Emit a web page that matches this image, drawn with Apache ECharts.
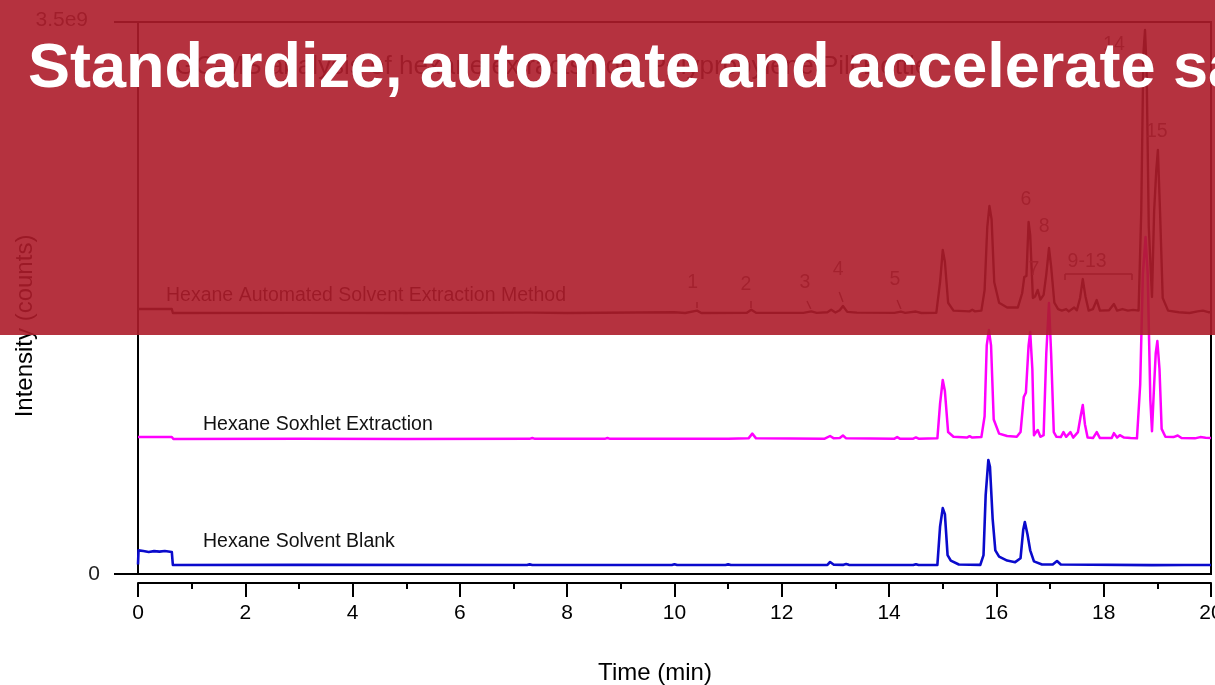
<!DOCTYPE html>
<html>
<head>
<meta charset="utf-8">
<script src="https://cdn.jsdelivr.net/npm/echarts@6/dist/echarts.min.js"></script>
<style>
  html, body { margin: 0; padding: 0; background: #fff; }
  #chart { width: 1215px; height: 685px; }
</style>
</head>
<body>
<div id="chart"></div>
<script>
// Intensities are in units of 1e9 counts, retention times in minutes.
const xTicks = { min: 0, max: 20, interval: 2 };
const yTicks = { min: 0, max: 3.5, interval: 3.5 };

// Hexane automated solvent extraction method
const automatedTrace = [
  [0, 1.68], [0.63, 1.68], [0.65, 1.655], [3.0, 1.656], [5.0, 1.655], [7.3, 1.657], [8.0, 1.655],
  [10.0, 1.66], [10.2, 1.655], [10.42, 1.67], [10.5, 1.655], [11.35, 1.656], [11.43, 1.675], [11.52, 1.656],
  [12.4, 1.656], [12.55, 1.665], [12.65, 1.656], [12.85, 1.66], [12.92, 1.675], [13.0, 1.658], [13.08, 1.672],
  [13.14, 1.699], [13.22, 1.662], [13.4, 1.657], [14.1, 1.656], [14.22, 1.664], [14.3, 1.656], [14.5, 1.664],
  [14.6, 1.655], [14.88, 1.656], [14.95, 1.85], [15.0, 2.054], [15.04, 1.98], [15.1, 1.72], [15.2, 1.67],
  [15.5, 1.665], [15.55, 1.675], [15.6, 1.665], [15.72, 1.67], [15.78, 1.8], [15.83, 2.2], [15.87, 2.333],
  [15.91, 2.25], [15.96, 1.85], [16.05, 1.72], [16.2, 1.69], [16.4, 1.69], [16.48, 1.78], [16.52, 1.883],
  [16.56, 1.89], [16.6, 2.232], [16.63, 2.15], [16.68, 1.75], [16.72, 1.76], [16.77, 1.801], [16.82, 1.74],
  [16.88, 1.77], [16.93, 1.9], [16.98, 2.067], [17.02, 1.95], [17.08, 1.72], [17.15, 1.68], [17.22, 1.67],
  [17.3, 1.68], [17.35, 1.665], [17.45, 1.69], [17.5, 1.672], [17.56, 1.75], [17.61, 1.87], [17.66, 1.76],
  [17.72, 1.67], [17.8, 1.68], [17.87, 1.737], [17.93, 1.67], [18.1, 1.672], [18.19, 1.712], [18.25, 1.67],
  [18.35, 1.68], [18.45, 1.67], [18.55, 1.675], [18.65, 1.67], [18.7, 2.3], [18.74, 3.3], [18.77, 3.449],
  [18.8, 3.2], [18.84, 2.2], [18.9, 1.756], [18.94, 2.3], [18.98, 2.561], [19.01, 2.688], [19.05, 2.3],
  [19.1, 1.75], [19.2, 1.67], [19.4, 1.66], [19.6, 1.655], [19.75, 1.665], [19.85, 1.67], [19.95, 1.66], [20, 1.66]
];

// Hexane Soxhlet extraction
const soxhletTrace = [
  [0, 0.869], [0.63, 0.869], [0.66, 0.856], [3, 0.857], [5, 0.856], [7.3, 0.857], [7.35, 0.862], [7.4, 0.857],
  [8.7, 0.857], [8.75, 0.862], [8.8, 0.857], [10.0, 0.857], [10.02, 0.866], [10.06, 0.857], [11.0, 0.857],
  [11.38, 0.86], [11.45, 0.89], [11.52, 0.86], [12.8, 0.858], [12.9, 0.875], [12.97, 0.86], [13.08, 0.862],
  [13.14, 0.878], [13.2, 0.86], [14.1, 0.858], [14.15, 0.868], [14.2, 0.858], [14.45, 0.858], [14.5, 0.866],
  [14.55, 0.858], [14.9, 0.86], [14.95, 1.08], [15.0, 1.23], [15.04, 1.16], [15.1, 0.9], [15.2, 0.87],
  [15.45, 0.865], [15.5, 0.874], [15.55, 0.865], [15.72, 0.868], [15.78, 1.0], [15.82, 1.45], [15.86, 1.547],
  [15.9, 1.45], [15.95, 0.98], [16.05, 0.89], [16.2, 0.875], [16.38, 0.87], [16.45, 0.9], [16.51, 1.122],
  [16.55, 1.15], [16.6, 1.45], [16.63, 1.534], [16.67, 1.3], [16.7, 0.88], [16.74, 0.9], [16.77, 0.913],
  [16.82, 0.87], [16.88, 0.88], [16.93, 1.4], [16.98, 1.718], [17.02, 1.4], [17.07, 0.9], [17.12, 0.87],
  [17.2, 0.868], [17.25, 0.9], [17.3, 0.87], [17.38, 0.9], [17.43, 0.865], [17.52, 0.9], [17.57, 1.0],
  [17.61, 1.072], [17.65, 0.95], [17.7, 0.865], [17.8, 0.862], [17.87, 0.9], [17.93, 0.862], [18.15, 0.862],
  [18.19, 0.893], [18.25, 0.865], [18.3, 0.88], [18.38, 0.865], [18.5, 0.862], [18.62, 0.86], [18.68, 1.2],
  [18.73, 1.9], [18.78, 2.137], [18.82, 1.9], [18.87, 1.1], [18.9, 0.905], [18.94, 1.2], [18.97, 1.4],
  [19.0, 1.477], [19.04, 1.3], [19.08, 0.92], [19.15, 0.87], [19.3, 0.868], [19.38, 0.878], [19.45, 0.862],
  [19.7, 0.86], [19.8, 0.868], [19.9, 0.864], [20, 0.862]
];

// Hexane solvent blank
const blankTrace = [
  [0, 0.06], [0.01, 0.15], [0.1, 0.146], [0.2, 0.14], [0.3, 0.145], [0.4, 0.142], [0.5, 0.146], [0.63, 0.14],
  [0.65, 0.057], [3, 0.058], [7.25, 0.057], [7.3, 0.061], [7.35, 0.057], [9.95, 0.057], [10.0, 0.062],
  [10.05, 0.057], [10.95, 0.057], [11.0, 0.061], [11.05, 0.057], [12.85, 0.058], [12.9, 0.076], [12.97, 0.059],
  [13.15, 0.058], [13.2, 0.063], [13.25, 0.058], [14.45, 0.057], [14.5, 0.062], [14.55, 0.057], [14.9, 0.058],
  [14.95, 0.3], [15.0, 0.418], [15.04, 0.38], [15.09, 0.12], [15.15, 0.085], [15.3, 0.06], [15.7, 0.058],
  [15.76, 0.12], [15.8, 0.5], [15.85, 0.723], [15.88, 0.68], [15.93, 0.35], [15.98, 0.15], [16.05, 0.11],
  [16.2, 0.085], [16.35, 0.075], [16.45, 0.1], [16.5, 0.28], [16.53, 0.33], [16.58, 0.25], [16.63, 0.15],
  [16.7, 0.08], [16.85, 0.06], [17.05, 0.06], [17.13, 0.082], [17.2, 0.06], [18.9, 0.056], [19.5, 0.057], [20, 0.057]
];

// Peak numbers on the automated trace: [label, time, intensity]
const peakLabels = [
  ['1', 10.34, 1.845], ['2', 11.33, 1.832], ['3', 12.43, 1.845], ['4', 13.05, 1.927], ['5', 14.11, 1.864],
  ['6', 16.55, 2.371], ['7', 16.70, 1.927], ['8', 16.89, 2.2], ['9-13', 17.69, 1.978],
  ['14', 18.19, 3.354], ['15', 18.99, 2.802]
];

// Leader strokes from numbers to peaks: [t1, v1, t2, v2]
const peakLeaders = [
  [10.42, 1.725, 10.42, 1.687], [11.43, 1.731, 11.43, 1.687], [12.47, 1.731, 12.54, 1.68],
  [13.07, 1.788, 13.14, 1.725], [14.15, 1.737, 14.22, 1.68],
  [17.28, 1.864, 17.28, 1.902], [17.28, 1.902, 18.53, 1.902], [18.53, 1.902, 18.53, 1.864]
];

const FONT = "'Liberation Sans', Arial, Helvetica, sans-serif";
const chart = echarts.init(document.getElementById('chart'), null, { renderer: 'canvas' });

function lineSeries(name, data, color, width, extra) {
  return Object.assign({
    name: name,
    type: 'line',
    data: data,
    showSymbol: false,
    symbol: 'none',
    smooth: false,
    sampling: null,
    lineStyle: { color: color, width: width, join: 'round' },
    itemStyle: { color: color },
    silent: true,
    z: 3
  }, extra || {});
}

const option = {
  animation: false,
  backgroundColor: '#ffffff',
  textStyle: { fontFamily: FONT },
  grid: {
    left: 138, right: 4, top: 22, bottom: 111,
    containLabel: false,
    outerBoundsMode: 'none',
    show: true, borderColor: '#000', borderWidth: 2, backgroundColor: 'transparent'
  },
  xAxis: {
    type: 'value',
    min: xTicks.min, max: xTicks.max, interval: xTicks.interval,
    offset: 9,
    axisLine: { show: true, onZero: false, lineStyle: { color: '#000', width: 2 } },
    axisTick: { show: true, length: 14, lineStyle: { color: '#000', width: 2 } },
    minorTick: { show: true, splitNumber: 2, length: 6, lineStyle: { color: '#000', width: 2 } },
    axisLabel: { color: '#000', fontSize: 21, margin: 20, fontFamily: FONT, hideOverlap: false },
    splitLine: { show: false }
  },
  yAxis: {
    type: 'value',
    min: yTicks.min, max: yTicks.max, interval: yTicks.interval,
    axisLine: { show: true, onZero: false, lineStyle: { color: '#000', width: 2 } },
    axisTick: { show: true, length: 24, lineStyle: { color: '#000', width: 2 } },
    axisLabel: {
      color: '#222', fontSize: 21, margin: 38, fontFamily: FONT,
      formatter: v => v === 0 ? '0' : '{top|' + v + 'e9}',
      rich: { top: { fontSize: 21, color: '#333', padding: [0, 12, 4, 0], fontFamily: FONT } }
    },
    splitLine: { show: false }
  },
  series: [
    lineSeries('Hexane Automated Solvent Extraction Method', automatedTrace, '#111111', 2.4, {
      markPoint: {
        silent: true,
        symbol: 'circle', symbolSize: 1,
        itemStyle: { color: 'rgba(0,0,0,0)' },
        label: { show: true, position: 'inside', color: '#555', fontSize: 19.5, fontFamily: FONT, formatter: '{b}' },
        data: peakLabels.map(p => ({ name: p[0], coord: [p[1], p[2]] }))
      },
      markLine: {
        silent: true,
        symbol: ['none', 'none'],
        label: { show: false },
        lineStyle: { color: '#444', width: 1.5, type: 'solid' },
        data: peakLeaders.map(s => [{ coord: [s[0], s[1]] }, { coord: [s[2], s[3]] }])
      }
    }),
    lineSeries('Hexane Soxhlet Extraction', soxhletTrace, '#ff00ff', 2.5),
    lineSeries('Hexane Solvent Blank', blankTrace, '#0a0acc', 2.6)
  ],
  graphic: [
    { type: 'text', x: 175, y: 67, z: 10, style: { text: 'GC-MS analysis of hexane extracts from Polypropylene Pill Bottle', font: '26px ' + FONT, fill: '#222', verticalAlign: 'middle' } },
    { type: 'text', x: 166, y: 296, z: 10, style: { text: 'Hexane Automated Solvent Extraction Method', font: '19.5px ' + FONT, fill: '#111', verticalAlign: 'middle' } },
    { type: 'text', x: 203, y: 425, z: 10, style: { text: 'Hexane Soxhlet Extraction', font: '19.5px ' + FONT, fill: '#111', verticalAlign: 'middle' } },
    { type: 'text', x: 203, y: 542, z: 10, style: { text: 'Hexane Solvent Blank', font: '19.5px ' + FONT, fill: '#111', verticalAlign: 'middle' } },
    { type: 'text', x: 655, y: 673, z: 10, style: { text: 'Time (min)', font: '24px ' + FONT, fill: '#000', align: 'center', verticalAlign: 'middle' } },
    { type: 'text', x: 25, y: 326, rotation: Math.PI / 2, z: 10, style: { text: 'Intensity (counts)', font: '24px ' + FONT, fill: '#000', align: 'center', verticalAlign: 'middle' } },
    // slide banner laid over the upper part of the chart
    { type: 'rect', z: 100, shape: { x: 0, y: 0, width: 1215, height: 335 }, style: { fill: 'rgba(173,28,42,0.9)' } },
    { type: 'text', x: 28, y: 70, z: 101, style: { text: 'Standardize, automate and accelerate sample preparation', font: 'bold 63px ' + FONT, fill: '#ffffff', verticalAlign: 'middle' } }
  ]
};

chart.setOption(option);
</script>
</body>
</html>
